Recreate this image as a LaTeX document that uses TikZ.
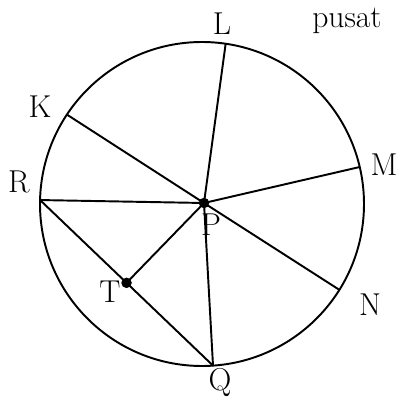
\documentclass[tikz,border=0pt]{standalone}
\usetikzlibrary{calc}

\begin{document}
\begin{tikzpicture}[x=0.02cm, y=0.02cm,
  line/.style={line width=1.1pt, black},
  dot/.style={circle, fill=black, inner sep=0pt, minimum size=0.21cm},
  lbl/.style={font=\fontsize{18}{21}\selectfont, inner sep=0pt, anchor=base}
]
  \useasboundingbox (0,0) rectangle (399,400);
  \coordinate (O) at (202,196);
  \draw[line] (O) circle (162);
  % points on the circle
  \coordinate (L) at ($(O)+(81.6:162)$);
  \coordinate (K) at ($(O)+(146.5:162)$);
  \coordinate (M) at ($(O)+(13.2:162)$);
  \coordinate (R) at ($(O)+(178.6:162)$);
  \coordinate (N) at ($(O)+(-32:162)$);
  \coordinate (Q) at ($(O)+(-86.1:162)$);
  \node[dot](P) at (204,197){};
  \node[dot](T) at ($(R)!0.5!(Q)$){};
  % chords and radii
  \draw[line] (P.center) -- (L);
  \draw[line] (P.center) -- (K);
  \draw[line] (P.center) -- (M);
  \draw[line] (P.center) -- (R);
  \draw[line] (P.center) -- (N);
  \draw[line] (P.center) -- (Q);
  \draw[line] (R) -- (Q);
  \draw[line] (P.center) -- (T.center);
  % labels
  \node[lbl](labL) at (222,366){L};
  \node[lbl](labK) at (40,283){K};
  \node[lbl](labR) at (19,208){R};
  \node[lbl](labM) at (384,225){M};
  \node[lbl](labN) at (370,85){N};
  \node[lbl](labP) at (211,165){P};
  \node[lbl](labQ) at (220,10){Q};
  \node[lbl](labT) at (110,97){T};
  \node[lbl](pusat) at (347,373){pusat};
\end{tikzpicture}
\end{document}
